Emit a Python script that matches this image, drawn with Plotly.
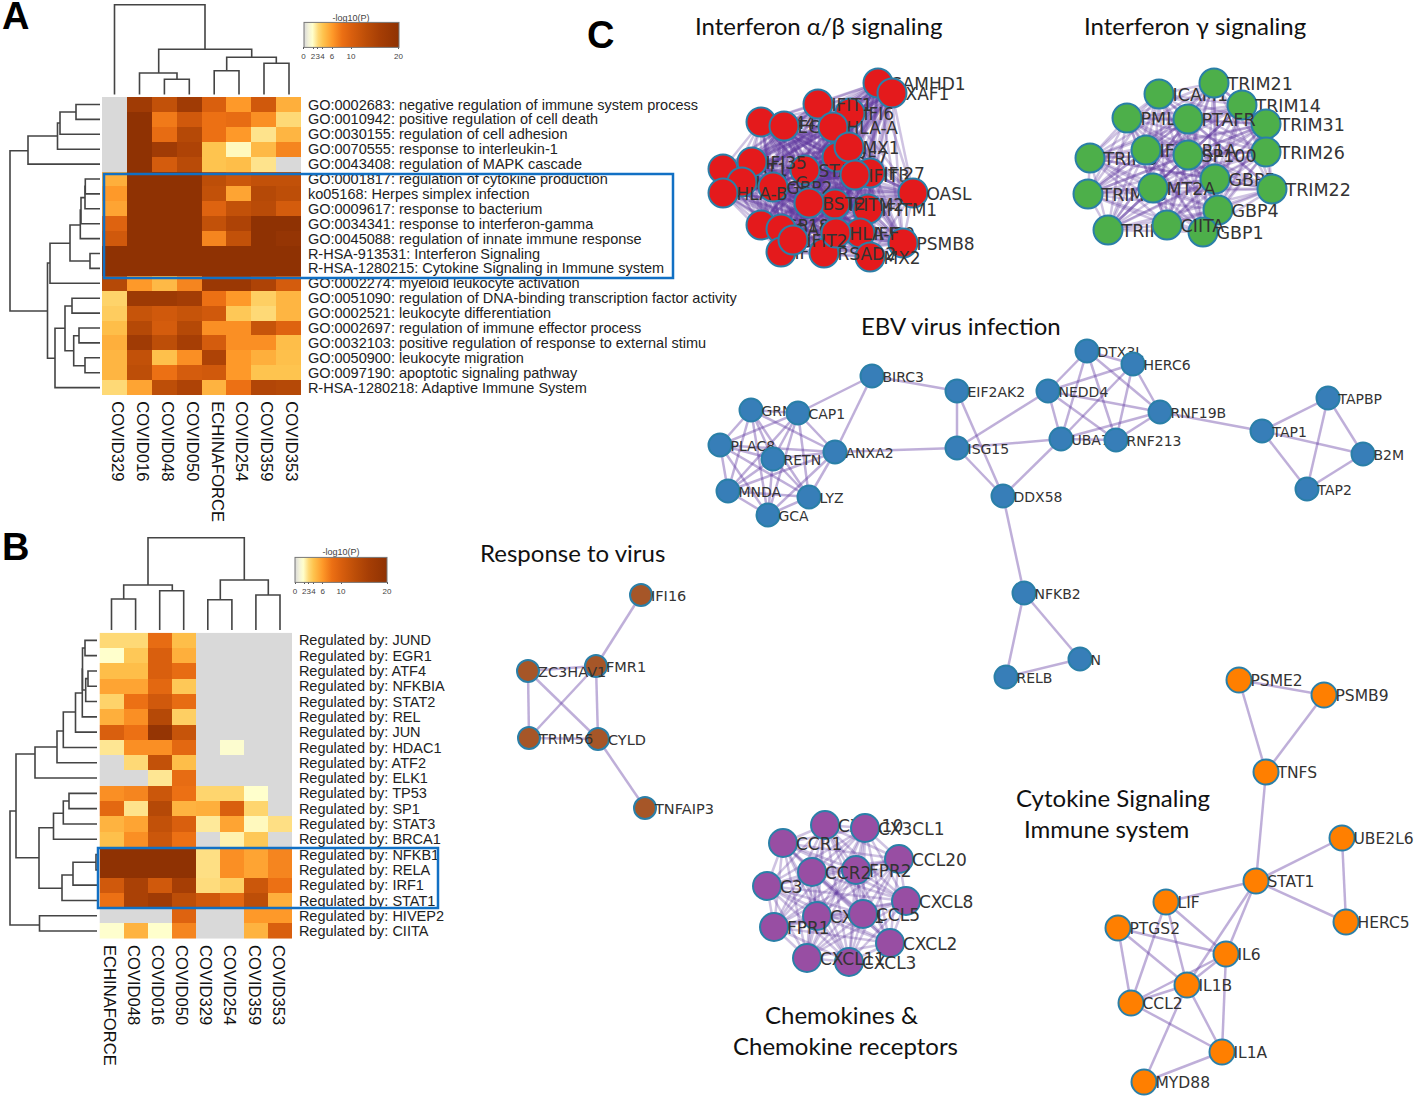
import itertools
import plotly.graph_objects as go

W, H = 1418, 1100

# --- heatmap A ---
cols_a = ['COVID329', 'COVID016', 'COVID048', 'COVID050', 'ECHINAFORCE', 'COVID254', 'COVID359', 'COVID353']
rows_a = ['GO:0002683: negative regulation of immune system process',
          'GO:0010942: positive regulation of cell death',
          'GO:0030155: regulation of cell adhesion',
          'GO:0070555: response to interleukin-1',
          'GO:0043408: regulation of MAPK cascade',
          'GO:0001817: regulation of cytokine production',
          'ko05168: Herpes simplex infection',
          'GO:0009617: response to bacterium',
          'GO:0034341: response to interferon-gamma',
          'GO:0045088: regulation of innate immune response',
          'R-HSA-913531: Interferon Signaling',
          'R-HSA-1280215: Cytokine Signaling in Immune system',
          'GO:0002274: myeloid leukocyte activation',
          'GO:0051090: regulation of DNA-binding transcription factor activity',
          'GO:0002521: leukocyte differentiation',
          'GO:0002697: regulation of immune effector process',
          'GO:0032103: positive regulation of response to external stimu',
          'GO:0050900: leukocyte migration',
          'GO:0097190: apoptotic signaling pathway',
          'R-HSA-1280218: Adaptive Immune System']
vals_a = [[0, 17, 12.5, 17, 10, 6, 11, 5],
          [0, 20, 7.5, 11, 8, 8.5, 6.5, 3],
          [0, 20, 8.5, 14, 8, 6, 2.7, 4.7],
          [0, 20, 17, 15, 4, 2, 4.5, 7],
          [0, 20, 10.5, 13.5, 4, 4.3, 2.7, 0],
          [5, 20, 20, 20, 13, 11.5, 12.5, 12.5],
          [6, 20, 20, 20, 12.5, 5.5, 14, 13],
          [5.5, 20, 20, 20, 9.5, 12.5, 13.5, 10.5],
          [9.5, 20, 20, 20, 12.5, 15, 20, 20],
          [11, 20, 20, 20, 7, 12.5, 20, 19],
          [20, 20, 20, 20, 20, 20, 20, 20],
          [20, 20, 20, 20, 20, 20, 20, 20],
          [14, 6, 4.5, 7, 18, 18, 15, 10.5],
          [3.3, 17.5, 17.5, 16.5, 8, 6, 3.5, 4.7],
          [3.6, 12, 11, 12, 11, 3.8, 3, 4.7],
          [4.3, 14, 10.5, 14, 6.5, 6.5, 12, 9.5],
          [5, 17, 13, 16, 10.5, 6.5, 6.5, 4.3],
          [4.7, 12.5, 4.2, 6.5, 15, 6, 5, 4.2],
          [4.7, 13, 8, 10.5, 11, 6, 4, 4],
          [3, 5.5, 13, 15, 4.8, 8, 14.5, 14]]

# --- heatmap B ---
cols_b = ['ECHINAFORCE', 'COVID048', 'COVID016', 'COVID050', 'COVID329', 'COVID254', 'COVID359', 'COVID353']
rows_b = ['Regulated by: JUND', 'Regulated by: EGR1', 'Regulated by: ATF4', 'Regulated by: NFKBIA',
          'Regulated by: STAT2', 'Regulated by: REL', 'Regulated by: JUN', 'Regulated by: HDAC1',
          'Regulated by: ATF2', 'Regulated by: ELK1', 'Regulated by: TP53', 'Regulated by: SP1',
          'Regulated by: STAT3', 'Regulated by: BRCA1', 'Regulated by: NFKB1', 'Regulated by: RELA',
          'Regulated by: IRF1', 'Regulated by: STAT1', 'Regulated by: HIVEP2', 'Regulated by: CIITA']
vals_b = [[3, 3, 8.5, 4.3, 0, 0, 0, 0],
          [1.8, 3.8, 10, 5, 0, 0, 0, 0],
          [4.3, 4.3, 10, 8.5, 0, 0, 0, 0],
          [5.5, 5.5, 9, 3.8, 0, 0, 0, 0],
          [3.3, 8, 11, 8.5, 0, 0, 0, 0],
          [5, 6.5, 14, 3.5, 0, 0, 0, 0],
          [10, 8, 19, 12, 0, 0, 0, 0],
          [2.6, 6.5, 6.5, 9, 0, 1.6, 0, 0],
          [0, 3, 12.5, 4.3, 0, 0, 0, 0],
          [0, 0, 2.6, 8.5, 0, 0, 0, 0],
          [6.5, 7, 11.5, 8, 3.2, 3.2, 1.8, 0],
          [9, 2.7, 14, 4.8, 5, 10, 3.2, 0],
          [4.8, 5.5, 12.5, 10, 2.5, 5.5, 2, 2.8],
          [4.2, 6.5, 11.5, 8, 0, 2.2, 3.8, 0],
          [20, 20, 20, 20, 2.8, 6.5, 5.5, 7],
          [20, 20, 20, 20, 2.8, 6.5, 5.5, 7],
          [11, 15.5, 11, 16, 2.9, 3.5, 11.5, 8],
          [8, 15.5, 17, 13, 11, 9, 13, 5],
          [0, 0, 0, 9.5, 0, 0, 6, 6],
          [1.7, 4.8, 1.8, 7, 0, 0, 4.8, 10]]

bar_ticks = [0, 2, 3, 4, 6, 10, 20]

# dendrograms: (a, b, height, end_a, end_b)
top_a = [(114.5, 205, 4.7, 94.5, 49.3), (158.7, 251.7, 49.3, 73, 57.3), (139.5, 177, 73, 94.5, 79.3),
         (164.4, 189.3, 79.3, 94.5, 94.5), (226.7, 276.3, 57.3, 70.7, 63.3), (214.2, 239, 70.7, 94.5, 94.5),
         (264, 289, 63.3, 94.5, 94.5)]
side_a = [(150.7, 311, 10, 28, 47.5), (136, 164.1, 28, 57.5, 100), (123, 149.2, 57.5, 60, 100),
          (112, 134.3, 60, 76, 100), (104.5, 119.4, 76, 100, 100), (263, 358.3, 47.5, 50, 55),
          (243.3, 283.3, 50, 70, 100), (225, 261, 70, 80.3, 90), (210, 238.6, 80.3, 81, 100),
          (197.6, 223.7, 81, 85, 100), (186.4, 208.8, 85, 85.3, 100), (179, 193.9, 85.3, 100, 100),
          (253.5, 268.4, 90, 100, 100), (328.3, 387.6, 55, 65, 100), (306, 350.7, 65, 72, 73.7),
          (298.2, 313.1, 72, 100, 100), (335.7, 365.7, 73.7, 79, 85), (328, 342.9, 79, 100, 100),
          (357.8, 372.7, 85, 100, 100)]
top_b = [(148, 244.3, 537.7, 585, 580), (123.7, 172.3, 585, 599, 590.7), (111.5, 135.6, 599, 630, 630),
         (159.7, 183.7, 590.7, 630, 630), (220.3, 268.3, 580, 599.7, 595), (207.8, 231.9, 599.7, 630, 630),
         (255.9, 280, 595, 630, 630)]
side_b = [(811, 925, 10, 16, 39.5), (754, 857.7, 16, 35, 39), (747, 778, 35, 57, 97), (731, 762.75, 57, 63.3, 97),
          (712, 747.45, 63.3, 75.5, 97), (693, 732.15, 75.5, 82.3, 97), (669, 716.85, 82.3, 82.5, 97),
          (648, 690, 82.5, 85, 85.7), (640.35, 655.65, 85, 97, 97), (678.6, 701.55, 85.7, 88, 97),
          (670.95, 686.25, 88, 97, 97), (827.7, 888.3, 39, 53.5, 62), (813.3, 839.25, 53.5, 63.3, 97),
          (801, 823.95, 63.3, 69, 97), (793.35, 808.65, 69, 97, 97), (875, 900.45, 62, 73, 97),
          (862.2, 885.15, 73, 96, 97), (854.55, 869.85, 96, 97, 97), (915.75, 931.05, 39.5, 97, 97)]

# --- networks: names, positions, in drawing order ---
ifn_names = ['SAMHD1', 'XAF1', 'IFI44', 'EGR1', 'IFI6', 'IFIT1', 'HLA-A', 'IRF7', 'MX1', 'STAT1', 'STAT2',
             'IFI35', 'HLA-C', 'GBP2', 'HLA-B', 'IFI27', 'IFIT3', 'OASL', 'IFITM1', 'IFITM2', 'BST2',
             'IFI30', 'USP18', 'OAP', 'IFIT5', 'PSMB8', 'MX2', 'RSAD2', 'HLA-F', 'IFIT2']
ifn_x = [878, 892, 761, 784, 850, 818, 833, 837, 849, 723, 805, 752, 742, 773, 723, 870, 855, 913, 868, 835, 809,
         860, 761, 781, 781, 903, 870, 824, 836, 793]
ifn_y = [83, 93, 122, 126, 113, 104, 127, 157, 147, 169, 170, 162, 182, 187, 193, 173, 175, 193, 209, 204, 203,
         233, 225, 229, 252, 243, 257, 253, 233, 240]

gamma_names = ['ICAM1', 'TRIM21', 'PML', 'TRIM14', 'TRIM31', 'PTAFR', 'TRIM26', 'TRIM5', 'IFNGR1A', 'SP100', 'GBP5',
               'TRIM22', 'TRIM25', 'MT2A', 'GBP4', 'TRIM8', 'GBP1', 'CIITA']
gamma_x = [1159, 1214, 1127, 1242, 1266, 1188, 1266, 1090, 1146, 1188, 1215, 1272, 1088, 1153, 1218, 1108, 1203, 1167]
gamma_y = [94, 83, 118, 105, 124, 119, 152, 158, 150, 155, 179, 189, 194, 188, 210, 230, 232, 225]

ebv_names = ['BIRC3', 'EIF2AK2', 'GRN', 'CAP1', 'PLAC8', 'RETN', 'ANXA2', 'ISG15', 'MNDA', 'LYZ', 'GCA', 'DDX58',
             'DTX3L', 'HERC6', 'NEDD4', 'RNF19B', 'UBA7', 'RNF213', 'TAP1', 'TAPBP', 'B2M', 'TAP2', 'NFKB2', 'RELB', 'N']
ebv_x = [872, 957, 751, 798, 720, 773, 835, 957, 728, 809, 768, 1003, 1087, 1133, 1048, 1160, 1061, 1116, 1262, 1328,
         1363, 1307, 1024, 1006, 1080]
ebv_y = [376, 391, 410, 413, 445, 459, 452, 448, 491, 497, 515, 496, 351, 364, 391, 412, 439, 440, 431, 398, 454,
         489, 593, 677, 659]
ebv_dense = ['GRN', 'CAP1', 'PLAC8', 'RETN', 'ANXA2', 'MNDA', 'LYZ', 'GCA']
ebv_edges = [('CAP1', 'BIRC3'), ('ANXA2', 'BIRC3'), ('BIRC3', 'EIF2AK2'), ('ANXA2', 'ISG15'), ('EIF2AK2', 'ISG15'),
             ('EIF2AK2', 'DDX58'), ('ISG15', 'DDX58'), ('ISG15', 'NEDD4'), ('ISG15', 'UBA7'), ('UBA7', 'DDX58'),
             ('DDX58', 'NFKB2'), ('NFKB2', 'RELB'), ('NFKB2', 'N'), ('RELB', 'N'), ('DTX3L', 'NEDD4'),
             ('DTX3L', 'HERC6'), ('DTX3L', 'UBA7'), ('DTX3L', 'RNF213'), ('DTX3L', 'RNF19B'), ('HERC6', 'NEDD4'),
             ('HERC6', 'UBA7'), ('HERC6', 'RNF213'), ('HERC6', 'RNF19B'), ('NEDD4', 'UBA7'), ('NEDD4', 'RNF213'),
             ('NEDD4', 'RNF19B'), ('UBA7', 'RNF213'), ('UBA7', 'RNF19B'), ('RNF213', 'RNF19B'), ('RNF19B', 'TAP1'),
             ('TAP1', 'TAPBP'), ('TAP1', 'B2M'), ('TAP1', 'TAP2'), ('TAPBP', 'B2M'), ('TAPBP', 'TAP2'), ('B2M', 'TAP2')]

virus_names = ['IFI16', 'FMR1', 'CYLD', 'TRIM56', 'ZC3HAV1', 'TNFAIP3']
virus_x = [641, 596, 598, 529, 528, 645]
virus_y = [595, 666, 739, 738, 671, 808]
virus_edges = [('IFI16', 'FMR1'), ('FMR1', 'ZC3HAV1'), ('FMR1', 'TRIM56'), ('FMR1', 'CYLD'), ('ZC3HAV1', 'TRIM56'),
               ('ZC3HAV1', 'CYLD'), ('TRIM56', 'CYLD'), ('CYLD', 'TNFAIP3')]

chemo_names = ['CXCL10', 'CX3CL1', 'CCR1', 'CCL20', 'FPR2', 'CCR2', 'C3', 'CXCL8', 'CXCL1', 'CCL5', 'FPR1',
               'CXCL2', 'CXCL3', 'CXCL11']
chemo_x = [825, 865, 783, 899, 856, 812, 767, 906, 817, 863, 774, 890, 849, 807]
chemo_y = [825, 828, 843, 859, 870, 872, 886, 901, 916, 914, 927, 943, 962, 958]

cyto_names = ['PSME2', 'PSMB9', 'TNFS', 'UBE2L6', 'STAT1', 'LIF', 'HERC5', 'PTGS2', 'IL6', 'IL1B', 'CCL2', 'IL1A', 'MYD88']
cyto_x = [1239, 1324, 1266, 1342, 1256, 1166, 1346, 1118, 1226, 1187, 1131, 1222, 1144]
cyto_y = [680, 695, 772, 838, 881, 902, 922, 928, 954, 985, 1003, 1052, 1082]
cyto_edges = [('PSME2', 'PSMB9'), ('PSME2', 'TNFS'), ('PSMB9', 'TNFS'), ('TNFS', 'STAT1'), ('STAT1', 'UBE2L6'),
              ('STAT1', 'HERC5'), ('UBE2L6', 'HERC5'), ('STAT1', 'LIF'), ('STAT1', 'IL6'), ('STAT1', 'IL1B'),
              ('LIF', 'IL6'), ('LIF', 'IL1B'), ('LIF', 'CCL2'), ('PTGS2', 'IL6'), ('PTGS2', 'IL1B'), ('PTGS2', 'CCL2'),
              ('IL6', 'IL1B'), ('IL6', 'CCL2'), ('IL6', 'IL1A'), ('IL1B', 'CCL2'), ('IL1B', 'IL1A'), ('IL1B', 'MYD88'),
              ('CCL2', 'IL1A'), ('IL1A', 'MYD88')]

# titles: text, x, y
titles = [('Interferon α/β signaling', 818, 25), ('Interferon γ signaling', 1195, 25),
          ('EBV virus infection', 961, 325), ('Response to virus', 572, 552),
          ('Cytokine Signaling', 1113, 797), ('Immune system', 1106, 828),
          ('Chemokines &', 841, 1014), ('Chemokine receptors', 845, 1045)]
panels = [('A', 15, 16), ('B', 15, 547), ('C', 600, 35)]

heat_scale = [[0, '#d9d9d9'], [0.05, '#f4f3d8'], [0.09, '#ffffcc'], [0.15, '#fed976'], [0.2, '#fec44f'],
              [0.3, '#fe9929'], [0.4, '#ec7014'], [0.5, '#d95f0e'], [0.65, '#bd4e08'], [0.8, '#a63e05'], [1, '#8f3203']]

fig = go.Figure()


def add_heat(z, cols, rows, xa, ya, box, bar, label_shift):
    left, right, top, bottom = box
    fig.add_trace(go.Heatmap(z=z, x=cols, y=rows, xaxis=xa, yaxis=ya, zmin=0, zmax=20, colorscale=heat_scale,
                             hoverinfo='skip',
                             colorbar=dict(orientation='h', x=bar[0] / W, xanchor='left', y=1 - bar[2] / H, yanchor='bottom',
                                           xpad=0, ypad=0, len=bar[1], lenmode='pixels', thickness=bar[3],
                                           thicknessmode='pixels', tickmode='array', tickvals=bar_ticks,
                                           ticktext=[str(t) for t in bar_ticks], ticks='outside', ticklen=2, tickangle=0,
                                           tickcolor='#555', tickfont=dict(size=8, color='#444', family='Liberation Sans'),
                                           outlinecolor='#777', outlinewidth=1,
                                           title=dict(text='-log10(P)', side='top',
                                                      font=dict(size=9, color='#444', family='Liberation Sans')))))
    return {
        'xaxis' + xa[1:]: dict(domain=[left / W, right / W], anchor=ya, side='bottom', tickangle=90, ticks='outside',
                               ticklen=2, tickcolor='rgba(0,0,0,0)', showgrid=False, zeroline=False, showline=False,
                               tickmode='array', tickvals=cols, ticktext=cols, ticklabelshift=label_shift,
                               tickfont=dict(size=16.6, color='#111', family='Liberation Sans')),
        'yaxis' + ya[1:]: dict(domain=[1 - bottom / H, 1 - top / H], anchor=xa, side='right', autorange='reversed', ticks='outside',
                               ticklen=3, tickcolor='rgba(0,0,0,0)', showgrid=False, zeroline=False, showline=False,
                               tickmode='array', tickvals=rows, ticktext=rows,
                               tickfont=dict(size=14.5, color='#222', family='Liberation Sans')),
    }


axes = {}
axes.update(add_heat(vals_a, cols_a, rows_a, 'x2', 'y2', (102, 301, 97, 395), (303.5, 94.5, 62.5, 24.5), 3))
axes.update(add_heat(vals_b, cols_b, rows_b, 'x3', 'y3', (99.5, 292, 632.7, 938.7), (295, 92, 596.5, 25), -2))


def add_dendro(links, horizontal):
    xs, ys = [], []
    for a, b, h, end_a, end_b in links:
        if horizontal:
            xs += [a, a, b, b, None]
            ys += [end_a, h, h, end_b, None]
        else:
            xs += [end_a, h, h, end_b, None]
            ys += [a, a, b, b, None]
    fig.add_trace(go.Scatter(x=xs, y=ys, mode='lines', line=dict(color='#444', width=1.6), hoverinfo='skip'))


add_dendro(top_a, True)
add_dendro(side_a, False)
add_dendro(top_b, True)
add_dendro(side_b, False)


def add_network(names, xs, ys, edges, color, size, font, edge_color, edge_width):
    pos = {n: (x, y) for n, x, y in zip(names, xs, ys)}
    # one path per node, so that crossings between paths darken like in the hairballs
    for name in names:
        ex, ey = [], []
        for a, b in edges:
            if a == name:
                ex += [pos[a][0], pos[b][0], None]
                ey += [pos[a][1], pos[b][1], None]
        if ex:
            fig.add_trace(go.Scatter(x=ex, y=ey, mode='lines', hoverinfo='skip',
                                     line=dict(color=edge_color, width=edge_width)))
    # nodes one by one: a later node covers the label of an earlier one
    for name in names:
        x, y = pos[name]
        fig.add_trace(go.Scatter(x=[x], y=[y], mode='markers', hoverinfo='skip',
                                 marker=dict(color=color, size=size, line=dict(color='#2a7fa8', width=2))))
        fig.add_trace(go.Scatter(x=[x + size / 2 - 1], y=[y + 2.5], mode='text', text=[name],
                                 textposition='middle right', hoverinfo='skip',
                                 textfont=dict(family='DejaVu Sans', size=font, color='#333')))


dense = 'rgba(96,56,160,0.30)'
sparse = 'rgba(96,56,160,0.40)'
add_network(ifn_names, ifn_x, ifn_y, list(itertools.combinations(ifn_names, 2)), '#e41a1c', 29, 17, dense, 2.5)
add_network(gamma_names, gamma_x, gamma_y, list(itertools.combinations(gamma_names, 2)), '#4daf4a', 29, 17.5, dense, 2.5)
add_network(ebv_names, ebv_x, ebv_y, list(itertools.combinations(ebv_dense, 2)) + ebv_edges, '#377eb8', 23, 14, sparse, 2.5)
add_network(virus_names, virus_x, virus_y, virus_edges, '#a65628', 22, 14.5, sparse, 2.5)
add_network(chemo_names, chemo_x, chemo_y, list(itertools.combinations(chemo_names, 2)), '#984ea3', 28, 17, dense, 2.5)
add_network(cyto_names, cyto_x, cyto_y, cyto_edges, '#ff7f00', 25, 15.5, sparse, 2.5)

annotations = [dict(x=x, y=y, text=t, showarrow=False, xanchor='center', yanchor='middle',
                    font=dict(family='Lato', size=24, color='#111')) for t, x, y in titles]
annotations += [dict(x=x, y=y, text='<b>%s</b>' % t, showarrow=False, xanchor='center', yanchor='middle',
                     font=dict(family='Liberation Sans', size=38, color='#000')) for t, x, y in panels]

blue = '#1170c4'
shapes = [dict(type='rect', xref='x', yref='y', x0=104, x1=673, y0=174, y1=278, line=dict(color=blue, width=2.5), layer='above'),
          dict(type='rect', xref='x', yref='y', x0=98, x1=438, y0=848, y1=908, line=dict(color=blue, width=2.5), layer='above')]

fig.update_layout(width=W, height=H, margin=dict(l=0, r=0, t=0, b=0, autoexpand=False), showlegend=False,
                  paper_bgcolor='white', plot_bgcolor='rgba(0,0,0,0)',
                  xaxis=dict(range=[0, W], domain=[0, 1], visible=False),
                  yaxis=dict(range=[H, 0], domain=[0, 1], visible=False),
                  annotations=annotations, shapes=shapes, **axes)

fig.write_html("out.html", config={'displayModeBar': False}, post_script="document.body.style.margin='0';")
